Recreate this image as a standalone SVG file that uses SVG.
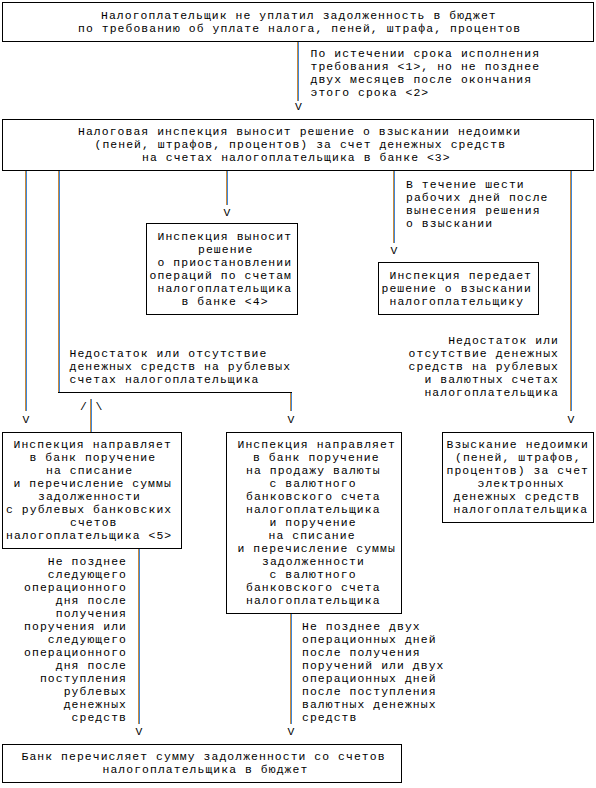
<svg xmlns="http://www.w3.org/2000/svg" width="596" height="788" viewBox="0 0 596 788">
<style>
text{font-family:"Liberation Mono","DejaVu Sans Mono",monospace;font-size:11.4px;letter-spacing:1.08px;fill:#000}
.e{text-anchor:end}
.m{text-anchor:middle;letter-spacing:0}
.box{fill:#fff;stroke:#000;stroke-width:1}
.h{fill:none;stroke:#000;stroke-width:1}
.o{fill:none;stroke:#c98a3c;stroke-width:1}
.b{fill:none;stroke:#3f86d8;stroke-width:1}
</style>
<rect width="596" height="788" fill="#fff"/>
<g id="connectors">
<path class="o" d="M297.5 42V101M25.5 171V411M58.5 171V393M226.5 171V205M393.5 171V243M570.5 171V411M290.5 392V411M90.5 399V432M138.5 549V724M290.5 614V724"/>
<path class="b" d="M298.5 42V101M26.5 171V411M59.5 171V393M227.5 171V205M394.5 171V243M571.5 171V411M291.5 392V411M91.5 399V432M139.5 549V724M291.5 614V724"/>
<path class="h" d="M58 392.5H292"/>
<text class="m" x="298.5" y="110">V</text>
<text class="m" x="227" y="215.5">V</text>
<text class="m" x="394" y="253.5">V</text>
<text class="m" x="26" y="422.5">V</text>
<text class="m" x="291" y="422.5">V</text>
<text class="m" x="571" y="422.5">V</text>
<text class="m" x="139" y="734.5">V</text>
<text class="m" x="291" y="734.5">V</text>
<text class="m" x="83.5" y="410">/</text>
<text class="m" x="99" y="410">\</text>
<text x="310.5" y="57">По истечении срока исполнения</text>
<text x="310.5" y="70">требования &lt;1&gt;, но не позднее</text>
<text x="310.5" y="83">двух месяцев после окончания</text>
<text x="310.5" y="96">этого срока &lt;2&gt;</text>
<text x="406" y="188">В течение шести</text>
<text x="406" y="201">рабочих дней после</text>
<text x="406" y="214">вынесения решения</text>
<text x="406" y="227">о взыскании</text>
<text x="69.5" y="357">Недостаток или отсутствие</text>
<text x="69.5" y="370">денежных средств на рублевых</text>
<text x="69.5" y="383">счетах налогоплательщика</text>
<text class="e" x="559" y="344">Недостаток или</text>
<text class="e" x="559" y="357">отсутствие денежных</text>
<text class="e" x="559" y="370">средств на рублевых</text>
<text class="e" x="559" y="383">и валютных счетах</text>
<text class="e" x="559" y="396">налогоплательщика</text>
<text class="e" x="127" y="565">Не позднее</text>
<text class="e" x="127" y="578">следующего</text>
<text class="e" x="127" y="591">операционного</text>
<text class="e" x="127" y="604">дня после</text>
<text class="e" x="127" y="617">получения</text>
<text class="e" x="127" y="630">поручения или</text>
<text class="e" x="127" y="643">следующего</text>
<text class="e" x="127" y="656">операционного</text>
<text class="e" x="127" y="669">дня после</text>
<text class="e" x="127" y="682">поступления</text>
<text class="e" x="127" y="695">рублевых</text>
<text class="e" x="127" y="708">денежных</text>
<text class="e" x="127" y="721">средств</text>
<text x="302" y="630">Не позднее двух</text>
<text x="302" y="643">операционных дней</text>
<text x="302" y="656">после получения</text>
<text x="302" y="669">поручений или двух</text>
<text x="302" y="682">операционных дней</text>
<text x="302" y="695">после поступления</text>
<text x="302" y="708">валютных денежных</text>
<text x="302" y="721">средств</text>
</g>
<g id="n1">
<rect class="box" x="2.5" y="2.5" width="591" height="39"/>
<text x="101" y="19">Налогоплательщик не уплатил задолженность в бюджет</text>
<text x="78" y="32">по требованию об уплате налога, пеней, штрафа, процентов</text>
</g>
<g id="n2">
<rect class="box" x="2.5" y="119.5" width="591" height="51"/>
<text x="78" y="135">Налоговая инспекция выносит решение о взыскании недоимки</text>
<text x="94.5" y="148">(пеней, штрафов, процентов) за счет денежных средств</text>
<text x="142" y="161">на счетах налогоплательщика в банке &lt;3&gt;</text>
</g>
<g id="n3">
<rect class="box" x="146.5" y="223.5" width="151" height="91"/>
<text x="157.5" y="240">Инспекция выносит</text>
<text x="198" y="253">решение</text>
<text x="157.5" y="266">о приостановлении</text>
<text x="149.5" y="279">операций по счетам</text>
<text x="157.5" y="292">налогоплательщика</text>
<text x="181.5" y="305">в банке &lt;4&gt;</text>
</g>
<g id="n4">
<rect class="box" x="378.5" y="262.5" width="160" height="52"/>
<text x="389.5" y="279">Инспекция передает</text>
<text x="381.5" y="292">решение о взыскании</text>
<text x="389.5" y="305">налогоплательщику</text>
</g>
<g id="n5">
<rect class="box" x="2.5" y="432.5" width="179" height="116"/>
<text x="13.5" y="448">Инспекция направляет</text>
<text x="29.5" y="461">в банк поручение</text>
<text x="46" y="474">на списание</text>
<text x="13.5" y="487">и перечисление суммы</text>
<text x="38" y="500">задолженности</text>
<text x="6" y="513">с рублевых банковских</text>
<text x="70" y="526">счетов</text>
<text x="6" y="539">налогоплательщика &lt;5&gt;</text>
</g>
<g id="n6">
<rect class="box" x="226.5" y="432.5" width="175" height="181"/>
<text x="237.5" y="448">Инспекция направляет</text>
<text x="253" y="461">в банк поручение</text>
<text x="246" y="474">на продажу валюты</text>
<text x="269.5" y="487">с валютного</text>
<text x="246" y="500">банковского счета</text>
<text x="246" y="513">налогоплательщика</text>
<text x="269.5" y="526">и поручение</text>
<text x="268.5" y="539">на списание</text>
<text x="237.5" y="552">и перечисление суммы</text>
<text x="262" y="565">задолженности</text>
<text x="269.5" y="578">с валютного</text>
<text x="246" y="591">банковского счета</text>
<text x="246" y="604">налогоплательщика</text>
</g>
<g id="n7">
<rect class="box" x="442.5" y="432.5" width="151" height="90"/>
<text x="446.5" y="448">Взыскание недоимки</text>
<text x="455" y="461">(пеней, штрафов,</text>
<text x="446.5" y="474">процентов) за счет</text>
<text x="477.5" y="487">электронных</text>
<text x="453.5" y="500">денежных средств</text>
<text x="453.5" y="513">налогоплательщика</text>
</g>
<g id="n8">
<rect class="box" x="2.5" y="744.5" width="399" height="38"/>
<text x="21.5" y="760">Банк перечисляет сумму задолженности со счетов</text>
<text x="102.5" y="773">налогоплательщика в бюджет</text>
</g>
</svg>
